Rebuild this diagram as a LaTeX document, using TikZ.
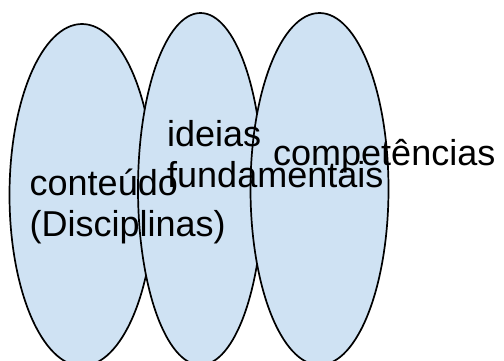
\documentclass[tikz,border=0pt]{standalone}
\usepackage{fontspec}
\setmainfont{Liberation Sans}
\definecolor{lightblue}{HTML}{CFE2F3}
\tikzset{
  blob/.style={fill=lightblue, draw=black, line width=1.7pt},
  lbl/.style={anchor=base west, inner sep=0pt, align=left, font=\fontsize{36}{41.4}\selectfont}
}
\begin{document}
\begin{tikzpicture}[x=1pt, y=-1pt]
\useasboundingbox (0,0) rectangle (504,360);
\draw[blob] (82,195) ellipse [x radius=72.5, y radius=171];
\draw[blob] (200.5,189) ellipse [x radius=62.5, y radius=176];
\draw[blob] (319.5,189) ellipse [x radius=69, y radius=176];
\node[lbl] (c1) at (29.5,236.4) {conteúdo\\(Disciplinas)};
\node[lbl] (c2) at (167,187.5) {ideias\\fundamentais};
\node[lbl] (c3) at (273,165) {competências};
\end{tikzpicture}
\end{document}
